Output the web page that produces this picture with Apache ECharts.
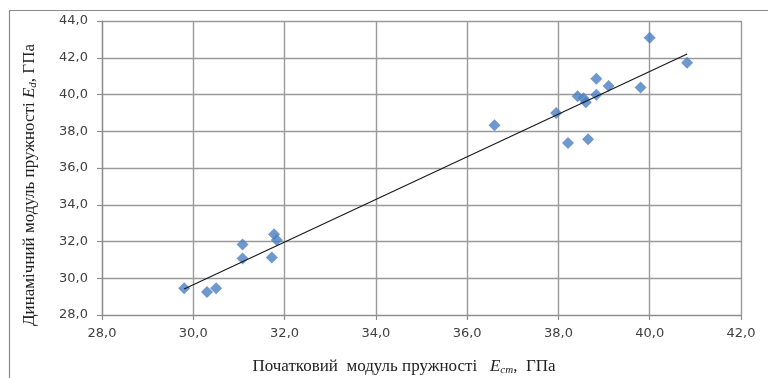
<!DOCTYPE html>
<html>
<head>
<meta charset="utf-8">
<script src="https://cdn.jsdelivr.net/npm/echarts@6/dist/echarts.min.js"></script>
<style>
  html, body { margin: 0; padding: 0; background: #fff; }
  #chart { width: 768px; height: 378px; }
</style>
</head>
<body>
<div id="chart"></div>
<script>
// початковий модуль E_cm (x) і динамічний модуль E_d (y), ГПа
const ecm = [29.8, 30.3, 30.5, 31.08, 31.08, 31.72, 31.77, 31.83,
             36.6, 37.95, 38.21, 38.65, 38.42, 38.55, 38.6, 38.83, 38.83, 39.1, 39.8, 40.0, 40.82];
const ed  = [29.45, 29.25, 29.45, 31.84, 31.08, 31.13, 32.4, 32.08,
             38.33, 38.99, 37.36, 37.57, 39.9, 39.8, 39.58, 39.98, 40.86, 40.46, 40.38, 43.09, 41.73];
const xTicks = [28, 30, 32, 34, 36, 38, 40, 42];
const yTicks = [28, 30, 32, 34, 36, 38, 40, 42, 44];

const points = ecm.map((x, i) => [x, ed[i]]);

// лінійний тренд (МНК), як у Excel
function linearTrend(xs, ys) {
    const n = xs.length;
    const mx = xs.reduce((a, b) => a + b, 0) / n;
    const my = ys.reduce((a, b) => a + b, 0) / n;
    let sxy = 0, sxx = 0;
    for (let i = 0; i < n; i++) {
        sxy += (xs[i] - mx) * (ys[i] - my);
        sxx += (xs[i] - mx) * (xs[i] - mx);
    }
    const k = sxy / sxx;
    const b = my - k * mx;
    const x0 = Math.min(...xs), x1 = Math.max(...xs);
    return [[x0, k * x0 + b], [x1, k * x1 + b]];
}
const trend = linearTrend(ecm, ed);

const fmt = v => v.toFixed(1).replace('.', ',');
const labelFont = { color: '#404040', fontSize: 13, fontFamily: 'DejaVu Sans' };
const serif = 'Liberation Serif';

const chart = echarts.init(document.getElementById('chart'));
chart.setOption({
    animation: false,
    backgroundColor: '#fff',
    grid: { left: 102, right: 27, top: 21, bottom: 63, containLabel: false },
    xAxis: {
        type: 'value',
        min: xTicks[0],
        max: xTicks[xTicks.length - 1],
        interval: 2,
        axisLine: { show: true, lineStyle: { color: '#8c8c8c', width: 1.2 } },
        axisTick: { show: true, inside: false, length: 5, lineStyle: { color: '#8c8c8c', width: 1.2 } },
        axisLabel: Object.assign({ margin: 12, formatter: fmt }, labelFont),
        splitLine: { show: true, lineStyle: { color: '#9a9a9a', width: 1.4 } }
    },
    yAxis: {
        type: 'value',
        min: yTicks[0],
        max: yTicks[yTicks.length - 1],
        interval: 2,
        axisLine: { show: true, lineStyle: { color: '#8c8c8c', width: 1.2 } },
        axisTick: { show: true, inside: false, length: 5, lineStyle: { color: '#8c8c8c', width: 1.2 } },
        axisLabel: Object.assign({ margin: 14, formatter: fmt }, labelFont),
        splitLine: { show: true, lineStyle: { color: '#9a9a9a', width: 1.4 } }
    },
    graphic: [
        {
            type: 'rect',
            shape: { x: 9.5, y: 10.5, width: 800, height: 400 },
            style: { fill: 'none', stroke: '#8a8a8a', lineWidth: 1.2 },
            silent: true
        },
        {
            type: 'text',
            x: 404, y: 367,
            style: {
                text: 'Початковий  модуль пружності   {i|E}{s|cm},  ГПа',
                rich: {
                    i: { fontFamily: serif, fontStyle: 'italic', fontSize: 17, fill: '#222' },
                    s: { fontFamily: serif, fontStyle: 'italic', fontSize: 11, fill: '#222', padding: [7, 0, 0, 0] }
                },
                font: '17px "Liberation Serif"',
                fill: '#222',
                align: 'center',
                verticalAlign: 'middle'
            }
        },
        {
            type: 'text',
            x: 30, y: 185,
            rotation: Math.PI / 2,
            style: {
                text: 'Динамічний модуль пружності {i|E}{s|d}, ГПа',
                rich: {
                    i: { fontFamily: serif, fontStyle: 'italic', fontSize: 17, fill: '#222' },
                    s: { fontFamily: serif, fontStyle: 'italic', fontSize: 11, fill: '#222', padding: [7, 0, 0, 0] }
                },
                font: '17px "Liberation Serif"',
                fill: '#222',
                align: 'center',
                verticalAlign: 'middle'
            }
        }
    ],
    series: [
        {
            name: 'Тренд',
            type: 'line',
            data: trend,
            showSymbol: false,
            symbol: 'none',
            lineStyle: { color: '#1a1a1a', width: 1.2 },
            z: 3
        },
        {
            name: 'Дані',
            type: 'scatter',
            data: points,
            symbol: 'diamond',
            symbolSize: [12, 12],
            itemStyle: { color: '#4a7ec2' },
            z: 2
        }
    ]
});
</script>
</body>
</html>
